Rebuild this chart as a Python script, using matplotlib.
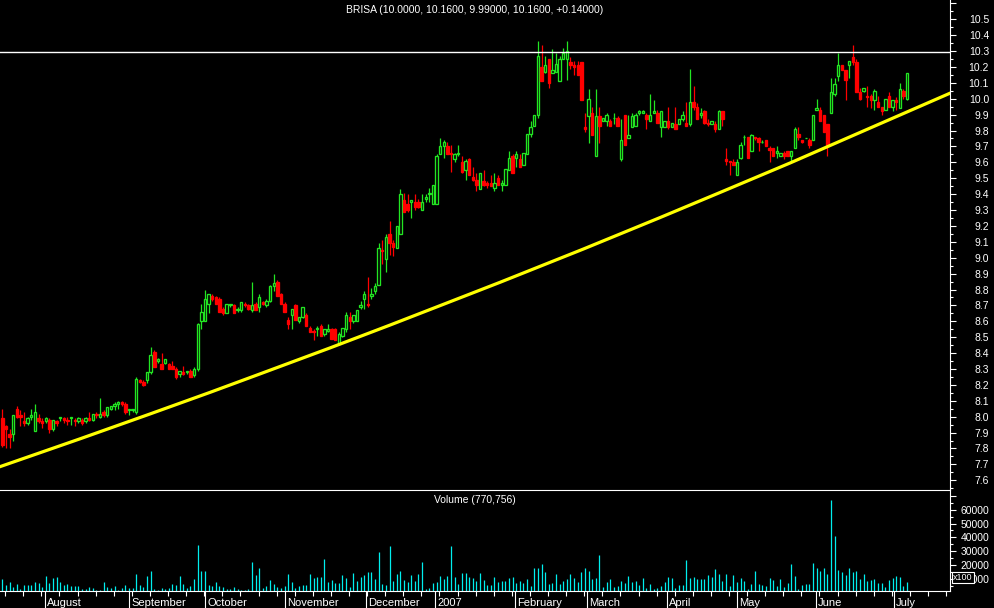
import numpy as np
import matplotlib.pyplot as plt
from matplotlib.ticker import FixedLocator, NullFormatter
import matplotlib.transforms as mtransforms

plt.rcParams['font.family'] = ['Liberation Sans', 'DejaVu Sans']

# Daily candles (Jul 2006 - Jul 2007)
opens = [
    7.99, 7.94, 7.89, 7.89, 8.05, 8.01, 7.97, 7.96, 8.00, 7.91,
    7.99, 7.97, 7.97, 7.98, 7.92, 7.97, 7.99, 7.99, 7.98, 7.99,
    7.98, 7.97, 7.98, 7.97, 7.99, 7.98, 8.02, 8.00, 8.03, 8.01,
    8.05, 8.07, 8.08, 8.09, 8.08, 8.04, 8.04, 8.03, 8.23, 8.22,
    8.23, 8.28, 8.41, 8.35, 8.33, 8.34, 8.33, 8.32, 8.30, 8.27,
    8.28, 8.28, 8.29, 8.26, 8.30, 8.60, 8.60, 8.71, 8.76, 8.75,
    8.74, 8.68, 8.65, 8.70, 8.70, 8.67, 8.67, 8.71, 8.70, 8.67,
    8.71, 8.69, 8.72, 8.70, 8.73, 8.82, 8.85, 8.77, 8.71, 8.61,
    8.64, 8.70, 8.60, 8.63, 8.64, 8.56, 8.54, 8.55, 8.57, 8.52,
    8.54, 8.55, 8.55, 8.46, 8.51, 8.55, 8.63, 8.60, 8.60, 8.69,
    8.74, 8.71, 8.76, 8.79, 8.83, 9.05, 8.99, 9.15, 9.09, 9.06,
    9.15, 9.36, 9.34, 9.35, 9.35, 9.35, 9.30, 9.37, 9.40, 9.34,
    9.34, 9.65, 9.70, 9.70, 9.66, 9.62, 9.65, 9.60, 9.55, 9.62,
    9.51, 9.49, 9.43, 9.48, 9.47, 9.47, 9.44, 9.50, 9.46, 9.46,
    9.55, 9.64, 9.63, 9.62, 9.58, 9.65, 9.78, 9.83, 9.90, 10.20,
    10.17, 10.25, 10.16, 10.17, 10.11, 10.25, 10.25, 10.23, 10.21, 10.21,
    10.23, 9.82, 9.89, 9.91, 9.64, 9.89, 9.86, 9.86, 9.86, 9.88,
    9.88, 9.62, 9.90, 9.75, 9.82, 9.83, 9.91, 9.91, 9.90, 9.86,
    9.91, 9.91, 9.82, 9.82, 9.86, 9.82, 9.84, 9.84, 9.87, 9.85,
    9.84, 9.98, 9.95, 9.90, 9.92, 9.85, 9.84, 9.84, 9.81, 9.92,
    9.62, 9.61, 9.60, 9.52, 9.63, 9.76, 9.76, 9.67, 9.76, 9.75,
    9.73, 9.74, 9.69, 9.69, 9.66, 9.64, 9.66, 9.67, 9.64, 9.69,
    9.78, 9.74, 9.75, 9.74, 9.74, 9.93, 9.93, 9.90, 9.84, 9.91,
    10.03, 10.14, 10.21, 10.18, 10.21, 10.26, 10.23, 10.04, 10.05, 10.02,
    10.02, 9.99, 9.98, 9.95, 9.93, 10.02, 9.95, 9.99, 9.94, 10.05, 10.00,
]
highs = [
    8.05, 7.95, 7.92, 8.01, 8.07, 8.04, 8.03, 8.00, 8.05, 8.08,
    8.02, 7.99, 8.00, 7.99, 7.98, 7.98, 8.00, 8.00, 8.00, 8.00,
    7.99, 8.00, 7.99, 8.00, 8.03, 8.02, 8.03, 8.12, 8.04, 8.06,
    8.07, 8.09, 8.10, 8.10, 8.09, 8.05, 8.05, 8.25, 8.24, 8.23,
    8.28, 8.44, 8.42, 8.37, 8.40, 8.36, 8.34, 8.35, 8.31, 8.29,
    8.32, 8.29, 8.30, 8.31, 8.59, 8.71, 8.80, 8.77, 8.77, 8.76,
    8.75, 8.69, 8.71, 8.71, 8.71, 8.69, 8.72, 8.72, 8.71, 8.85,
    8.72, 8.77, 8.73, 8.74, 8.83, 8.90, 8.86, 8.78, 8.72, 8.63,
    8.68, 8.71, 8.63, 8.69, 8.65, 8.57, 8.55, 8.57, 8.58, 8.55,
    8.58, 8.56, 8.56, 8.53, 8.56, 8.66, 8.66, 8.64, 8.67, 8.73,
    8.79, 8.88, 8.81, 8.84, 9.09, 9.11, 9.15, 9.23, 9.11, 9.20,
    9.43, 9.41, 9.40, 9.36, 9.40, 9.37, 9.40, 9.40, 9.44, 9.46,
    9.65, 9.75, 9.74, 9.73, 9.71, 9.66, 9.71, 9.64, 9.62, 9.63,
    9.57, 9.53, 9.53, 9.55, 9.48, 9.52, 9.53, 9.52, 9.49, 9.56,
    9.67, 9.65, 9.67, 9.65, 9.66, 9.78, 9.86, 9.90, 10.36, 10.34,
    10.27, 10.25, 10.31, 10.29, 10.27, 10.32, 10.36, 10.26, 10.24, 10.24,
    10.23, 9.91, 10.06, 9.95, 10.06, 9.95, 9.88, 9.91, 9.87, 9.91,
    9.89, 9.87, 9.90, 9.90, 9.91, 9.91, 9.93, 9.93, 9.91, 10.03,
    9.99, 9.93, 9.92, 9.86, 9.95, 9.85, 9.95, 9.87, 9.92, 9.98,
    10.19, 10.08, 9.97, 9.94, 9.93, 9.87, 9.86, 9.86, 9.93, 9.92,
    9.69, 9.61, 9.62, 9.62, 9.73, 9.77, 9.76, 9.78, 9.76, 9.76,
    9.74, 9.74, 9.70, 9.69, 9.70, 9.66, 9.67, 9.67, 9.67, 9.82,
    9.82, 9.74, 9.75, 9.75, 9.90, 10.00, 9.95, 9.90, 9.84, 10.13,
    10.13, 10.29, 10.21, 10.18, 10.24, 10.34, 10.25, 10.07, 10.07, 10.08,
    10.03, 10.06, 10.02, 9.95, 10.00, 10.04, 9.99, 10.01, 10.10, 10.06, 10.16,
]
lows = [
    7.81, 7.80, 7.80, 7.85, 7.99, 7.94, 7.94, 7.95, 7.98, 7.91,
    7.96, 7.93, 7.96, 7.90, 7.91, 7.94, 7.97, 7.96, 7.95, 7.95,
    7.94, 7.96, 7.95, 7.96, 7.97, 7.97, 7.99, 7.99, 8.00, 8.00,
    8.04, 8.04, 8.05, 8.07, 8.02, 8.01, 8.03, 8.02, 8.21, 8.19,
    8.21, 8.27, 8.31, 8.34, 8.30, 8.33, 8.30, 8.30, 8.24, 8.25,
    8.26, 8.27, 8.25, 8.25, 8.29, 8.55, 8.60, 8.65, 8.73, 8.71,
    8.66, 8.64, 8.65, 8.69, 8.65, 8.66, 8.66, 8.69, 8.67, 8.66,
    8.67, 8.66, 8.70, 8.69, 8.72, 8.79, 8.76, 8.71, 8.66, 8.55,
    8.55, 8.61, 8.59, 8.62, 8.57, 8.53, 8.48, 8.51, 8.51, 8.51,
    8.53, 8.49, 8.48, 8.45, 8.50, 8.53, 8.55, 8.59, 8.60, 8.68,
    8.68, 8.69, 8.74, 8.77, 8.83, 8.96, 8.91, 9.02, 9.01, 9.06,
    9.15, 9.29, 9.29, 9.25, 9.30, 9.31, 9.30, 9.35, 9.35, 9.34,
    9.34, 9.65, 9.63, 9.65, 9.54, 9.60, 9.64, 9.53, 9.49, 9.52,
    9.48, 9.42, 9.43, 9.45, 9.44, 9.45, 9.42, 9.46, 9.42, 9.46,
    9.55, 9.53, 9.57, 9.57, 9.58, 9.65, 9.76, 9.83, 9.88, 10.11,
    10.16, 10.07, 10.16, 10.17, 10.11, 10.25, 10.12, 10.19, 10.15, 10.15,
    9.99, 9.79, 9.72, 9.77, 9.64, 9.72, 9.86, 9.83, 9.83, 9.84,
    9.83, 9.61, 9.71, 9.75, 9.82, 9.83, 9.90, 9.91, 9.81, 9.86,
    9.91, 9.85, 9.76, 9.82, 9.81, 9.82, 9.81, 9.84, 9.86, 9.83,
    9.83, 9.93, 9.87, 9.88, 9.84, 9.83, 9.84, 9.79, 9.81, 9.83,
    9.58, 9.52, 9.58, 9.52, 9.62, 9.71, 9.63, 9.67, 9.74, 9.67,
    9.72, 9.70, 9.60, 9.64, 9.63, 9.64, 9.62, 9.64, 9.61, 9.69,
    9.74, 9.72, 9.75, 9.69, 9.74, 9.93, 9.86, 9.79, 9.64, 9.91,
    10.02, 10.11, 10.18, 9.99, 10.13, 10.21, 10.04, 9.99, 10.04, 9.95,
    9.94, 9.93, 9.95, 9.90, 9.93, 9.95, 9.92, 9.93, 9.94, 10.00, 9.99,
]
closes = [
    7.82, 7.92, 7.87, 8.01, 8.00, 8.00, 7.96, 7.99, 8.01, 8.03,
    7.97, 7.96, 7.99, 7.92, 7.98, 7.96, 8.00, 7.98, 7.97, 8.00,
    7.97, 7.99, 7.96, 7.99, 7.98, 8.02, 8.01, 8.02, 8.01, 8.06,
    8.07, 8.08, 8.09, 8.08, 8.03, 8.05, 8.05, 8.24, 8.22, 8.20,
    8.28, 8.39, 8.31, 8.36, 8.30, 8.36, 8.30, 8.30, 8.25, 8.29,
    8.27, 8.29, 8.25, 8.30, 8.58, 8.66, 8.74, 8.77, 8.74, 8.71,
    8.66, 8.65, 8.71, 8.71, 8.65, 8.68, 8.72, 8.70, 8.68, 8.70,
    8.67, 8.75, 8.71, 8.73, 8.82, 8.84, 8.76, 8.71, 8.66, 8.58,
    8.68, 8.61, 8.63, 8.69, 8.57, 8.53, 8.53, 8.56, 8.51, 8.55,
    8.55, 8.49, 8.48, 8.52, 8.56, 8.64, 8.60, 8.64, 8.67, 8.70,
    8.77, 8.70, 8.77, 8.82, 9.06, 9.04, 9.13, 9.09, 9.07, 9.20,
    9.40, 9.29, 9.30, 9.36, 9.32, 9.32, 9.35, 9.38, 9.41, 9.46,
    9.64, 9.70, 9.73, 9.65, 9.65, 9.65, 9.66, 9.54, 9.61, 9.52,
    9.49, 9.46, 9.53, 9.46, 9.46, 9.45, 9.47, 9.46, 9.47, 9.56,
    9.63, 9.53, 9.65, 9.57, 9.66, 9.78, 9.82, 9.90, 10.27, 10.11,
    10.21, 10.10, 10.18, 10.22, 10.25, 10.29, 10.30, 10.21, 10.20, 10.15,
    9.99, 9.81, 10.00, 9.77, 9.89, 9.83, 9.88, 9.90, 9.83, 9.88,
    9.83, 9.74, 9.71, 9.77, 9.89, 9.90, 9.92, 9.92, 9.87, 9.90,
    9.92, 9.85, 9.92, 9.86, 9.82, 9.85, 9.81, 9.87, 9.90, 9.83,
    9.98, 9.95, 9.87, 9.91, 9.85, 9.84, 9.86, 9.81, 9.92, 9.87,
    9.61, 9.60, 9.58, 9.60, 9.71, 9.76, 9.63, 9.77, 9.75, 9.73,
    9.73, 9.70, 9.68, 9.64, 9.67, 9.66, 9.64, 9.64, 9.67, 9.81,
    9.76, 9.73, 9.75, 9.71, 9.90, 9.94, 9.86, 9.79, 9.70, 10.04,
    10.09, 10.21, 10.18, 10.12, 10.24, 10.23, 10.04, 10.00, 10.07, 10.01,
    9.99, 10.05, 9.95, 9.92, 10.00, 9.95, 9.99, 9.98, 10.06, 10.02, 10.16,
]
# volume in units of 100 shares
volumes = [
    10200, 5900, 7800, 4200, 6400, 3000, 5900, 5900, 5400, 7800,
    7100, 4000, 12100, 7100, 10700, 11400, 7800, 5400, 6400, 4900,
    4900, 4900, 2500, 3000, 4200, 3500, 2300, 2100, 7800, 4200,
    3500, 4900, 2100, 3500, 5700, 3500, 3500, 13600, 5700, 4200,
    12100, 15700, 2800, 2300, 3500, 2800, 3500, 6400, 5700, 12100,
    6400, 3500, 4900, 10000, 34500, 15700, 15700, 5700, 4900, 7800,
    4900, 4200, 2800, 2800, 4200, 2800, 2100, 2100, 2800, 22200,
    12900, 17900, 3500, 4900, 9300, 6400, 4200, 3500, 4900, 13600,
    7800, 3500, 4900, 5700, 5700, 13600, 10700, 11400, 11400, 24400,
    7800, 9300, 7100, 7100, 12900, 10700, 4200, 14300, 8500, 11400,
    12900, 15000, 15000, 10000, 29400, 6400, 5700, 33700, 8500, 13600,
    15700, 9300, 7800, 12900, 8500, 13600, 22200, 2800, 3500, 7100,
    7800, 12100, 10000, 12100, 33700, 11400, 6400, 14300, 14300, 11400,
    10700, 8500, 14300, 9300, 5700, 5700, 11400, 7800,
    8500, 8500, 10700, 11400, 7100, 8500, 7100, 10000, 4900, 17900,
    17900, 20800, 15000, 6400, 7100, 13600, 6400, 8500, 10000, 13600,
    10700, 7800, 15000, 17900, 15700, 10000, 10700, 27300, 4200, 7800,
    10000, 4200, 4900, 8500, 7100, 12100, 7800, 8500, 5700, 10700,
    3500, 6400, 2800, 3500, 4900, 7800, 11400, 10700, 3500, 5700,
    5700, 23700, 10700, 11400, 10000, 10000, 10000, 12900, 11400, 17200,
    13600, 8500, 13600, 4900, 12900, 7800, 10700, 8500, 2800, 6400,
    15700, 6400, 5700, 4900, 10700, 9300, 4900, 10000, 4200, 7100,
    20800, 12100, 2800, 5700, 6400, 6400, 21500, 17900, 15700, 17900,
    13600, 66900, 40900, 16500, 15000, 12900, 17900, 15000, 15700, 10000,
    13600, 8500, 9300, 10000, 7100, 7100, 4200, 9300, 10700, 12100,
    11400, 4900, 7700,
]

month_names = ['August', 'September', 'October', 'November', 'December', '2007',
               'February', 'March', 'April', 'May', 'June', 'July']
month_starts = [11.8, 35.0, 56.0, 78.1, 100.5, 119.6, 141.7, 161.6, 183.7, 203.0, 224.8, 246.4]

# support line drawn on the chart, read at points along its length
trend_x = [-0.6, 21.5, 40.8, 57.4, 71.2, 90.6, 107.1, 120.9, 137.5, 160.5, 181.7,
           198.3, 217.7, 234.2, 248.1, 261.9]
trend_y = [7.686, 7.861, 8.017, 8.153, 8.269, 8.433, 8.576, 8.698, 8.845, 9.054, 9.252,
           9.410, 9.596, 9.760, 9.898, 10.035]
resistance = 10.295

title = 'BRISA (10.0000, 10.1600, 9.99000, 10.1600, +0.14000)'
vol_title = 'Volume (770,756)'

n = len(closes)
if not (len(opens) == len(highs) == len(lows) == n == len(volumes)):
    raise ValueError(f'lengths {len(opens)} {len(highs)} {len(lows)} {n} {len(volumes)}')

GREEN = '#22e622'
RED = '#ff0000'
CYAN = '#00eeee'
W, H = 994, 608

fig = plt.figure(figsize=(W / 100, H / 100), dpi=100, facecolor='black')
ax = fig.add_axes([0, 1 - 489.5 / H, 950 / W, 489.5 / H], facecolor='black')
axv = fig.add_axes([0, 1 - 591.3 / H, 950 / W, (591.3 - 490.3) / H], facecolor='black')

xlim = (-0.64, 261.87)

# candles
x = np.arange(n)
o, h, l, c = (np.array(v) for v in (opens, highs, lows, closes))
up = c >= o
col = np.where(up, GREEN, RED)
top = np.maximum(o, c)
bot = np.minimum(o, c)
ax.vlines(x, top, h, colors=col, lw=0.9)
ax.vlines(x, l, bot, colors=col, lw=0.9)
ax.bar(x, top - bot, bottom=bot, width=0.66, color=np.where(up, 'black', RED),
       edgecolor=col, linewidth=0.95, zorder=3)

ax.axhline(resistance, color='white', lw=1.0, zorder=4)
ax.plot(trend_x, trend_y, color='#ffff00', lw=2.3, zorder=5)

ax.set_xlim(*xlim)
ax.set_ylim(7.542, 10.621)
ax.set_xticks([])
for s in ('top', 'left', 'bottom'):
    ax.spines[s].set_visible(False)
ax.spines['right'].set_color('white')

pmaj = np.round(np.arange(7.6, 10.65, 0.1), 2)
pmin = np.round(np.arange(7.55, 10.65, 0.1), 2)
ax.yaxis.tick_right()
ax.yaxis.set_major_locator(FixedLocator(pmaj))
ax.yaxis.set_minor_locator(FixedLocator(pmin))
ax.set_yticklabels([f'{v:.1f}' if v < 10.55 else '' for v in pmaj])
ax.yaxis.set_minor_formatter(NullFormatter())
ax.tick_params(axis='y', which='major', direction='out', length=4.3, width=0.8,
               colors='white', labelsize=7.5, pad=23.8)
ax.tick_params(axis='y', which='minor', direction='out', length=2.2, width=0.8, colors='white')
for t in ax.get_yticklabels():
    t.set_horizontalalignment('right')

# volume
axv.vlines(x, 0, volumes, colors=CYAN, lw=0.9)
axv.set_xlim(*xlim)
axv.set_ylim(1150, 73970)
axv.spines['left'].set_visible(False)
for s in ('top', 'right', 'bottom'):
    axv.spines[s].set_color('white')
vmaj = [10000, 20000, 30000, 40000, 50000, 60000, 70000]
vmin = [5000, 15000, 25000, 35000, 45000, 55000, 65000]
axv.yaxis.tick_right()
axv.yaxis.set_major_locator(FixedLocator(vmaj))
axv.yaxis.set_minor_locator(FixedLocator(vmin))
axv.set_yticklabels([str(v) if v <= 60000 else '' for v in vmaj])
axv.yaxis.set_minor_formatter(NullFormatter())
axv.tick_params(axis='y', which='major', direction='out', length=4.3, width=0.8,
                colors='white', labelsize=7.5, pad=23.8)
axv.tick_params(axis='y', which='minor', direction='out', length=2.2, width=0.8, colors='white')
for t in axv.get_yticklabels():
    t.set_horizontalalignment('right')

axv.xaxis.set_major_locator(FixedLocator(month_starts))
axv.xaxis.set_minor_locator(FixedLocator(np.arange(0.8, 262, 5.0)))
axv.set_xticklabels([])
axv.tick_params(axis='x', which='major', direction='out', length=12.5, width=0.8, colors='white')
axv.tick_params(axis='x', which='minor', direction='out', length=3.6, width=0.8, colors='white')

trans = mtransforms.blended_transform_factory(axv.transData, axv.transAxes)
for name, pos in zip(month_names, month_starts):
    axv.text(pos + 0.6, -0.116, name, transform=trans, color='white', fontsize=8,
             ha='left', va='center')

fig.text(475 / W, 1 - 10 / H, title, color='white', fontsize=7.5, ha='center', va='center')
fig.text(475 / W, 1 - 500 / H, vol_title, color='white', fontsize=7.5, ha='center', va='center')
# the multiplier box sits over the bottom volume label, as in the original
fig.text(953 / W, 1 - 577.5 / H, 'x100', color='white', fontsize=6.5, ha='left', va='center',
         bbox=dict(facecolor='black', edgecolor='white', pad=0.8, lw=0.8))

fig.savefig('out.png', dpi=100, facecolor='black')
